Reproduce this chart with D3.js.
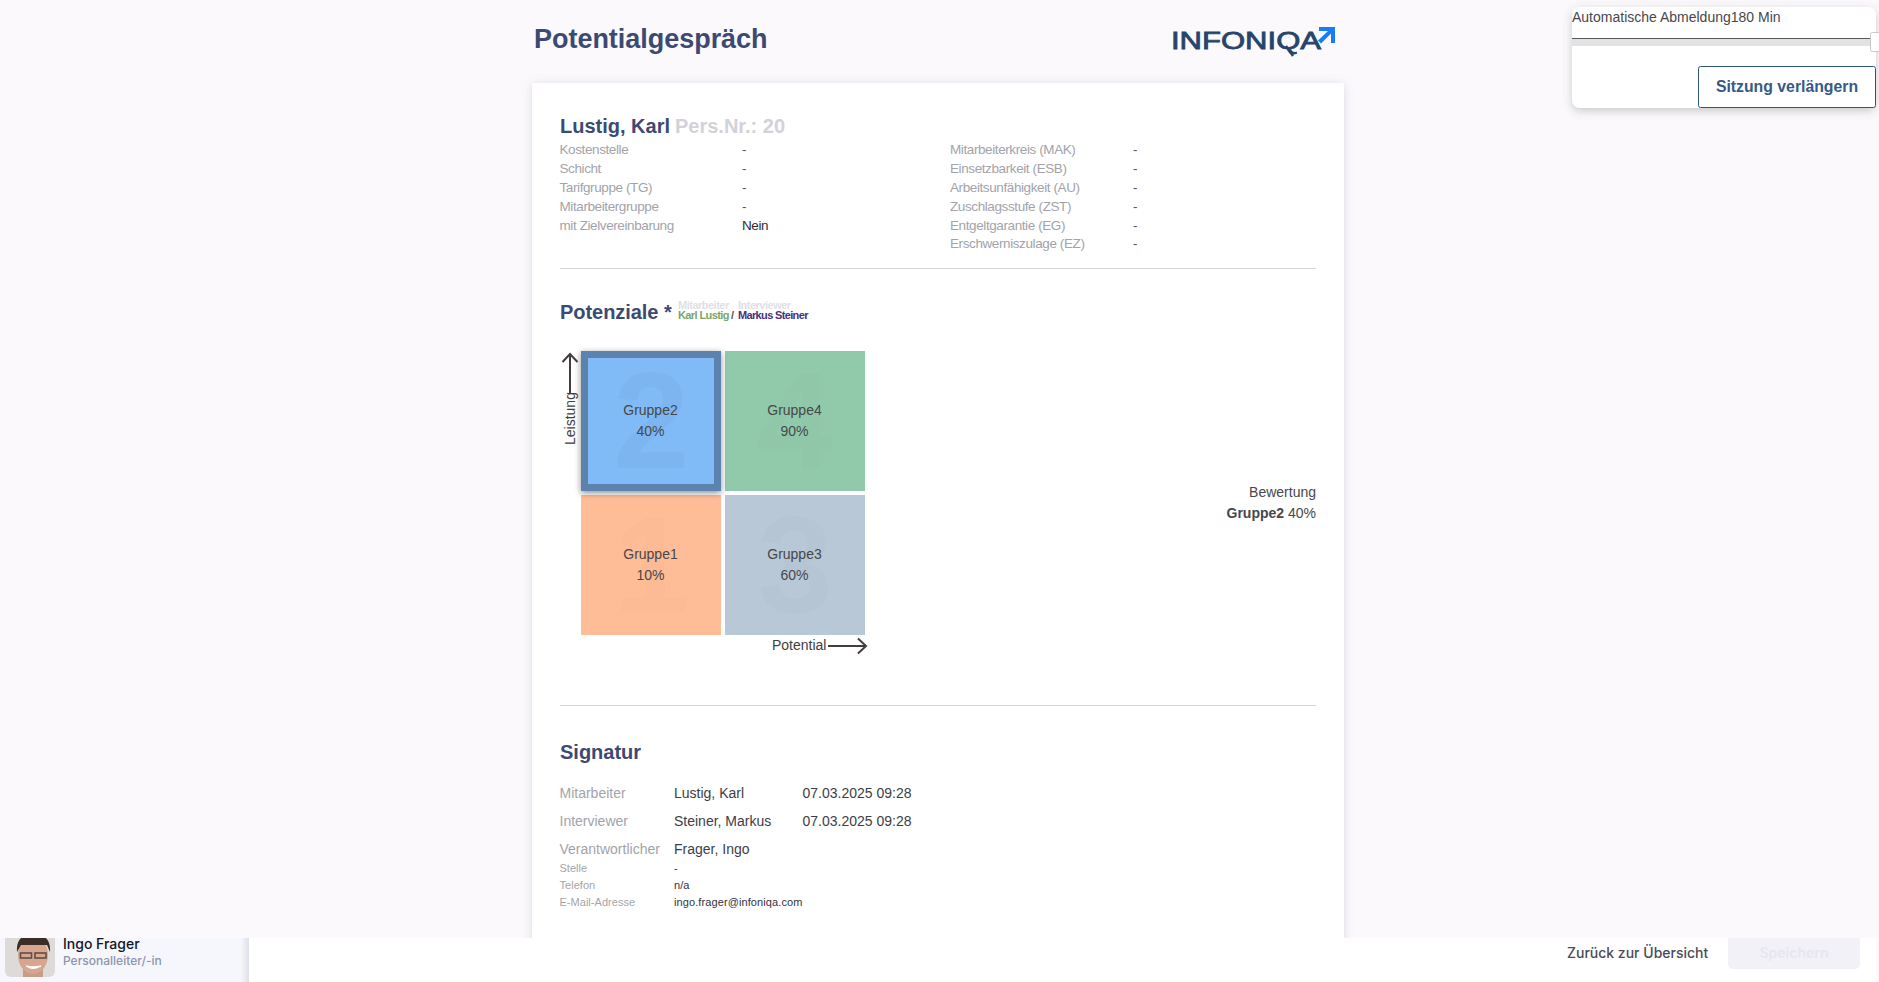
<!DOCTYPE html>
<html>
<head>
<meta charset="utf-8">
<title>Potentialgespräch</title>
<script src="https://cdn.jsdelivr.net/npm/d3@7"></script>
<style>
html, body { margin: 0; padding: 0; background: #fbf9fc; overflow: hidden; }
svg { display: block; }
text { font-family: "Liberation Sans", Arial, sans-serif; }
</style>
</head>
<body>
<script>
// Stammdaten
var leftLabels = ['Kostenstelle', 'Schicht', 'Tarifgruppe (TG)', 'Mitarbeitergruppe', 'mit Zielvereinbarung'];
var leftValues = ['-', '-', '-', '-', 'Nein'];
var rightLabels = ['Mitarbeiterkreis (MAK)', 'Einsetzbarkeit (ESB)', 'Arbeitsunfähigkeit (AU)', 'Zuschlagsstufe (ZST)', 'Entgeltgarantie (EG)', 'Erschwerniszulage (EZ)'];
var rightValues = ['-', '-', '-', '-', '-', '-'];

// Matrix
var potentialLevels = ['niedrig', 'hoch'];
var leistungLevels = ['hoch', 'niedrig'];
var groupNames = ['Gruppe1', 'Gruppe2', 'Gruppe3', 'Gruppe4'];
var groupNumbers = ['1', '2', '3', '4'];
var groupPercents = [10, 40, 60, 90];
var groupPotential = ['niedrig', 'niedrig', 'hoch', 'hoch'];
var groupLeistung = ['niedrig', 'hoch', 'niedrig', 'hoch'];
var groupColors = ['#ffbd97', '#80bbf7', '#b9c8d6', '#91caab'];
var selectedGroup = 'Gruppe2';

// Signatur
var signLabels = ['Mitarbeiter', 'Interviewer', 'Verantwortlicher'];
var signNames = ['Lustig, Karl', 'Steiner, Markus', 'Frager, Ingo'];
var signDates = ['07.03.2025 09:28', '07.03.2025 09:28', ''];
var contactLabels = ['Stelle', 'Telefon', 'E-Mail-Adresse'];
var contactValues = ['-', 'n/a', 'ingo.frager@infoniqa.com'];

var width = 1879, height = 982;
var navy = '#3c4a73', grey = '#a3a3aa', dark = '#3d3d47';

var svg = d3.select('body').append('svg').attr('width', width).attr('height', height);

function label(parent, x, y, str, size, color, opts) {
	opts = opts || {};
	return parent.append('text')
		.attr('x', x).attr('y', y)
		.attr('text-anchor', opts.anchor || 'start')
		.style('font-size', size + 'px')
		.style('font-weight', opts.weight || 'normal')
		.style('font-family', opts.family || null)
		.style('letter-spacing', opts.spacing || null)
		.style('fill', color)
		.text(str);
}

function arrowPath(x1, y1, x2, y2) {
	// Linie plus offene Spitze
	var a = Math.atan2(y2 - y1, x2 - x1), h = 11;
	var p1 = [x2 - h * Math.cos(a - 0.75), y2 - h * Math.sin(a - 0.75)];
	var p2 = [x2 - h * Math.cos(a + 0.75), y2 - h * Math.sin(a + 0.75)];
	return 'M' + x1 + ',' + y1 + 'L' + x2 + ',' + y2 + 'M' + p1 + 'L' + x2 + ',' + y2 + 'L' + p2;
}

// Seitenkopf
label(svg, 534, 48, 'Potentialgespräch', 27, navy, {weight: 'bold', spacing: '-0.03px'});

var logo = svg.append('g');
logo.append('text')
	.attr('x', 1171).attr('y', 49)
	.attr('textLength', 150).attr('lengthAdjust', 'spacingAndGlyphs')
	.style('font-size', '24px').style('fill', '#27456b')
	.style('stroke', '#27456b').style('stroke-width', 0.8)
	.text('INFONIQA');
logo.append('path')
	.attr('d', 'M1286,46L1293,56')
	.style('fill', 'none').style('stroke', '#27456b').style('stroke-width', 2.4);
logo.append('path')
	.attr('d', 'M1319,27H1335V43H1331V33.5L1321,43.5L1318,40.5L1328,31H1319Z')
	.style('fill', '#1a7cf5');

// Karte
var defs = svg.append('defs');
var cardShadow = defs.append('filter').attr('id', 'cardShadow')
	.attr('x', '-5%').attr('y', '-5%').attr('width', '110%').attr('height', '110%');
cardShadow.append('feDropShadow').attr('dx', 0).attr('dy', 1).attr('stdDeviation', 5)
	.attr('flood-color', '#8a8a9a').attr('flood-opacity', 0.28);
var cellShadow = defs.append('filter').attr('id', 'cellShadow')
	.attr('x', '-10%').attr('y', '-10%').attr('width', '120%').attr('height', '120%');
cellShadow.append('feDropShadow').attr('dx', 0).attr('dy', 2).attr('stdDeviation', 3)
	.attr('flood-color', '#222').attr('flood-opacity', 0.5);
var soft = defs.append('filter').attr('id', 'soft');
soft.append('feGaussianBlur').attr('stdDeviation', 0.7);
var edge = defs.append('linearGradient').attr('id', 'edge');
edge.append('stop').attr('offset', '0%').attr('stop-color', '#f6f6fd');
edge.append('stop').attr('offset', '100%').attr('stop-color', '#dfdfe8');

svg.append('rect').attr('x', 532).attr('y', 83).attr('width', 812).attr('height', 900)
	.style('fill', '#fff').attr('filter', 'url(#cardShadow)');

label(svg, 560, 133, 'Lustig, Karl', 20, navy, {weight: 'bold'});
label(svg, 675, 133, 'Pers.Nr.: 20', 20, '#d2d2d8', {weight: 'bold'});

// Stammdaten-Zeilen
var rowY = [154, 173, 192, 211, 230, 249];
function infoColumn(labels, values, xLabel, xValue) {
	var g = svg.append('g');
	labels.forEach(function(d, i) {
		label(g, xLabel, rowY[i] - (i == 5 ? 1 : 0), d, 13.5, grey, {spacing: '-0.4px'});
		label(g, xValue, rowY[i] - (i == 5 ? 1 : 0), values[i], 13.5, values[i] == '-' ? '#55555f' : '#2c2c36', {spacing: '-0.4px'});
	});
}
infoColumn(leftLabels, leftValues, 559.5, 742);
infoColumn(rightLabels, rightValues, 950, 1133);

function divider(y) {
	svg.append('line').attr('x1', 560).attr('x2', 1316).attr('y1', y).attr('y2', y)
		.style('stroke', '#d5d5d8').style('stroke-width', 1);
}
divider(268.5);

// Potenziale
label(svg, 560, 319, 'Potenziale *', 20, navy, {weight: 'bold', spacing: '-0.05px'});
label(svg, 678, 309, 'Mitarbeiter', 11, '#e0dfe6', {weight: 'bold', spacing: '-0.5px'});
label(svg, 738, 309, 'Interviewer', 11, '#e0dfe6', {weight: 'bold', spacing: '-0.5px'});
label(svg, 678, 319, 'Karl Lustig', 11, '#7aa56a', {weight: 'bold', spacing: '-0.6px'});
label(svg, 731, 319, '/', 11, '#555', {weight: 'bold'});
label(svg, 738, 319, 'Markus Steiner', 11, '#4a2f7f', {weight: 'bold', spacing: '-0.65px'});

var x = d3.scaleBand().domain(potentialLevels).range([581, 865]).paddingInner(4 / 144);
var y = d3.scaleBand().domain(leistungLevels).range([351, 635]).paddingInner(4 / 144);

var groups = groupNames.map(function(name, i) {
	return {
		name: name,
		number: groupNumbers[i],
		percent: groupPercents[i],
		potential: groupPotential[i],
		leistung: groupLeistung[i],
		color: groupColors[i]
	};
});
// ausgewaehlte Gruppe zuletzt zeichnen, wegen Schatten
groups.sort(function(a, b) { return (a.name == selectedGroup) - (b.name == selectedGroup); });

var cell = svg.append('g').selectAll('g').data(groups).enter().append('g')
	.attr('transform', function(d) { return 'translate(' + x(d.potential) + ',' + y(d.leistung) + ')'; });

var bw = x.bandwidth();
cell.append('rect')
	.attr('width', bw).attr('height', y.bandwidth())
	.style('fill', function(d) { return d.color; })
	.attr('filter', function(d) { return d.name == selectedGroup ? 'url(#cellShadow)' : null; });

cell.filter(function(d) { return d.name == selectedGroup; }).append('rect')
	.attr('x', 3.5).attr('y', 3.5).attr('width', bw - 7).attr('height', bw - 7)
	.style('fill', 'none').style('stroke', '#5b83ae').style('stroke-width', 7);

cell.append('text')
	.attr('x', bw / 2).attr('y', bw - 23)
	.attr('text-anchor', 'middle')
	.style('font-size', '137px').style('font-weight', 'bold')
	.style('fill', '#000')
	.style('fill-opacity', function(d) { return d.name == selectedGroup ? 0.03 : 0.012; })
	.text(function(d) { return d.number; });

cell.append('text')
	.attr('x', bw / 2 - 0.5).attr('y', 64)
	.attr('text-anchor', 'middle')
	.style('font-size', '14px').style('fill', '#47474c')
	.text(function(d) { return d.name; });

cell.append('text')
	.attr('x', bw / 2 - 0.5).attr('y', 85)
	.attr('text-anchor', 'middle')
	.style('font-size', '14px').style('fill', '#47474c')
	.text(function(d) { return d.percent + '%'; });

// Achsenbeschriftung
label(svg, -52, 0, 'Leistung', 14, '#423d3f')
	.attr('transform', 'translate(575,393) rotate(-90)');
svg.append('path').attr('d', arrowPath(570, 393, 570, 354))
	.style('fill', 'none').style('stroke', '#423d3f').style('stroke-width', 2);
label(svg, 772, 650, 'Potential', 14, '#423d3f');
svg.append('path').attr('d', arrowPath(828, 646, 866, 646))
	.style('fill', 'none').style('stroke', '#423d3f').style('stroke-width', 2);

// Bewertung
var selected = groups.filter(function(d) { return d.name == selectedGroup; })[0];
label(svg, 1316, 497, 'Bewertung', 14, '#47474c', {anchor: 'end'});
var rating = label(svg, 1316, 518, '', 14, '#47474c', {anchor: 'end'});
rating.append('tspan').style('font-weight', 'bold').text(selected.name);
rating.append('tspan').text(' ' + selected.percent + '%');

divider(705.5);

// Signatur
label(svg, 560, 759, 'Signatur', 20, navy, {weight: 'bold'});
var signY = [798, 826, 854];
signLabels.forEach(function(d, i) {
	label(svg, 559.5, signY[i], d, 14, grey);
	label(svg, 674, signY[i], signNames[i], 14, dark);
	label(svg, 802.5, signY[i], signDates[i], 14, dark);
});
var contactY = [872, 889, 906];
contactLabels.forEach(function(d, i) {
	label(svg, 559.5, contactY[i], d, 11, grey, {spacing: '0.03px'});
	label(svg, 674, contactY[i], contactValues[i], 11, '#33333d', {spacing: '0.1px'});
});

// Fusszeile
svg.append('rect').attr('x', 0).attr('y', 938).attr('width', width).attr('height', 44).style('fill', '#fff');
svg.append('rect').attr('x', 0).attr('y', 938).attr('width', 241).attr('height', 44).style('fill', '#f6f6fd');
svg.append('rect').attr('x', 241).attr('y', 938).attr('width', 8).attr('height', 44).style('fill', 'url(#edge)');
svg.append('rect').attr('x', 1876).attr('y', 938).attr('width', 3).attr('height', 44).style('fill', '#fbf9fc');

defs.append('clipPath').attr('id', 'avatarClip').append('path')
	.attr('d', 'M5,938H55V971a6,6 0 0 1 -6,6H11a6,6 0 0 1 -6,-6Z');
var avatar = svg.append('g').attr('clip-path', 'url(#avatarClip)');
var face = avatar.append('g').attr('filter', 'url(#soft)');
avatar.insert('rect', 'g').attr('x', 5).attr('y', 938).attr('width', 50).attr('height', 40).style('fill', '#dedad7');
face.append('rect').attr('x', 23).attr('y', 968).attr('width', 20).attr('height', 10).style('fill', '#c99c88');
face.append('ellipse').attr('cx', 33).attr('cy', 955).attr('rx', 15).attr('ry', 19).style('fill', '#d8a58e');
face.append('path').attr('d', 'M17,952C16,938 24,934 33,934C43,934 51,938 50,952L47,945H21Z').style('fill', '#3a2d26');
face.append('rect').attr('x', 20.5).attr('y', 953).attr('width', 11).attr('height', 5).style('fill', 'none').style('stroke', '#5c4f4c').style('stroke-width', 1.6);
face.append('rect').attr('x', 35).attr('y', 953).attr('width', 11).attr('height', 5).style('fill', 'none').style('stroke', '#5c4f4c').style('stroke-width', 1.6);
face.append('path').attr('d', 'M26,966Q33,971 41,966Q33,967.5 26,966Z').style('fill', '#fff').style('stroke', '#fff');

label(svg, 63, 949, 'Ingo Frager', 14, '#14141e', {family: 'Inter', weight: 500});
label(svg, 63, 965, 'Personalleiter/-in', 12, '#8d94ad', {family: 'Inter', weight: 500});

label(svg, 1567, 958, 'Zurück zur Übersicht', 14, '#4a4a5a', {family: 'Inter', weight: 500});
svg.append('rect').attr('x', 1728).attr('y', 932).attr('width', 132).attr('height', 37).attr('rx', 5).style('fill', '#f1f1f7');
svg.append('rect').attr('x', 1728).attr('y', 928).attr('width', 132).attr('height', 10).style('fill', '#fbf9fc');
label(svg, 1794, 958, 'Speichern', 14, '#e6e6ee', {family: 'Inter', weight: 600, anchor: 'middle'});

// Sitzungs-Dialog
var boxShadow = defs.append('filter').attr('id', 'boxShadow')
	.attr('x', '-10%').attr('y', '-20%').attr('width', '120%').attr('height', '150%');
boxShadow.append('feDropShadow').attr('dx', 0).attr('dy', 3).attr('stdDeviation', 5)
	.attr('flood-color', '#555').attr('flood-opacity', 0.3);
svg.append('rect').attr('x', 1572).attr('y', 7).attr('width', 304).attr('height', 101).attr('rx', 8)
	.style('fill', '#fff').attr('filter', 'url(#boxShadow)');
label(svg, 1572, 22, 'Automatische Abmeldung180 Min', 14, '#47474c');
svg.append('rect').attr('x', 1572).attr('y', 39).attr('width', 304).attr('height', 7).style('fill', '#e3e3e3');
svg.append('line').attr('x1', 1572).attr('x2', 1871).attr('y1', 38.5).attr('y2', 38.5).style('stroke', '#55555a').style('stroke-width', 1);
svg.append('rect').attr('x', 1870.5).attr('y', 32.5).attr('width', 12).attr('height', 19).attr('rx', 2)
	.style('fill', '#fff').style('stroke', '#c8c8c8');
svg.append('rect').attr('x', 1698.5).attr('y', 66.5).attr('width', 177).attr('height', 41).attr('rx', 2)
	.style('fill', '#fff').style('stroke', '#2f5583');
label(svg, 1787, 92, 'Sitzung verlängern', 15.8, '#365a87', {weight: 'bold', anchor: 'middle'});
</script>
</body>
</html>
